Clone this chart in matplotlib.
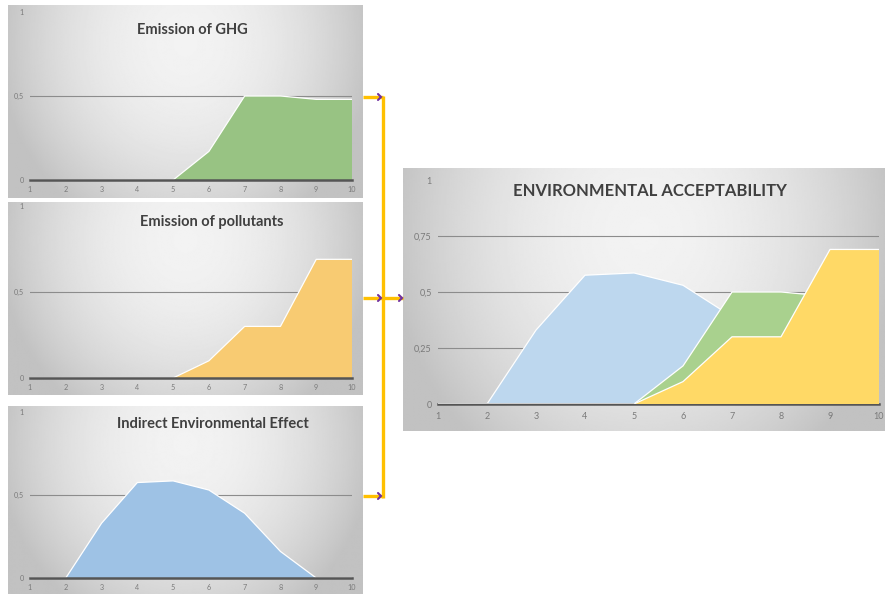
import numpy as np
import matplotlib
matplotlib.use("Agg")
import matplotlib.pyplot as plt

# ---- data -------------------------------------------------------------
levels = [1, 2, 3, 4, 5, 6, 7, 8, 9, 10]
ghg = [0, 0, 0, 0, 0, 0.17, 0.50, 0.50, 0.48, 0.48]
pollutants = [0, 0, 0, 0, 0, 0.10, 0.30, 0.30, 0.69, 0.69]
indirect = [0, 0, 0.33, 0.575, 0.585, 0.53, 0.39, 0.16, 0, 0]

small_titles = ["Emission of GHG", "Emission of pollutants", "Indirect Environmental Effect"]
main_title = "ENVIRONMENTAL ACCEPTABILITY"
small_yticks = [0, 0.5, 1]
small_yticklabels = ["0", "0,5", "1"]
main_yticks = [0, 0.25, 0.5, 0.75, 1]
main_yticklabels = ["0", "0,25", "0,5", "0,75", "1"]

small_colors = ["#98C383", "#F8CB72", "#9EC2E5"]
main_colors = {"indirect": "#BDD7EE", "ghg": "#A9D18E", "pollutants": "#FFD966"}

W, H = 885, 594
fig = plt.figure(figsize=(W / 100, H / 100), dpi=100)
fig.patch.set_facecolor("white")
plt.rcParams["font.family"] = ["Lato", "DejaVu Sans"]


def rect(x0, y0, x1, y1):
    """Pixel box (top-left origin) -> figure fraction rectangle."""
    return [x0 / W, 1 - y1 / H, (x1 - x0) / W, (y1 - y0) / H]


def gradient_panel(box, cy=0.8):
    bg = fig.add_axes(rect(*box), zorder=0)
    ny, nx = 200, 300
    yy, xx = np.mgrid[0:1:ny * 1j, 0:1:nx * 1j]
    r2 = ((xx - 0.5) / 0.5) ** 2 + ((yy - cy) / 1.0) ** 2
    v = np.clip(0.95 - 0.17 * r2, 0.76, 1.0)
    bg.imshow(v, cmap="gray", vmin=0, vmax=1, origin="lower",
              extent=(0, 1, 0, 1), aspect="auto", interpolation="bilinear")
    bg.set_axis_off()
    return bg


def style_axes(ax, yticks, ylabels, grid_vals, fs, xpad, ypad):
    ax.set_facecolor("none")
    ax.set_xlim(1, 10)
    ax.set_ylim(0, 1)
    ax.set_xticks(levels)
    ax.set_xticklabels([str(v) for v in levels])
    ax.set_yticks(yticks)
    ax.set_yticklabels(ylabels)
    for s in ax.spines.values():
        s.set_visible(False)
    ax.tick_params(length=0, labelsize=fs, colors="#7a7a7a")
    ax.tick_params(axis="x", pad=xpad)
    ax.tick_params(axis="y", pad=ypad)
    for g in grid_vals:
        ax.axhline(g, color="#8c8c8c", lw=0.8, zorder=1)
    ax.axhline(0, color="#555555", lw=1.8, zorder=5, clip_on=False)


def area(ax, values, color, z):
    ax.fill_between(levels, values, 0, facecolor=color, edgecolor="none", zorder=z)
    ax.plot(levels, values, color="white", lw=0.9, zorder=z + 0.1)


# ---- three input panels ----------------------------------------------
panels = [
    ((8, 5, 363, 198), (30, 12, 352, 180), ghg, (192, 30)),
    ((8, 202, 363, 395), (30, 206, 352, 378), pollutants, (212, 222)),
    ((8, 406, 363, 594), (30, 412, 352, 578), indirect, (213, 424)),
]
for i, (box, abox, vals, tpos) in enumerate(panels):
    gradient_panel(box)
    ax = fig.add_axes(rect(*abox), zorder=2)
    style_axes(ax, small_yticks, small_yticklabels, [0.5], 5.2, 4.5, 4.5)
    area(ax, vals, small_colors[i], 3)
    fig.text(tpos[0] / W, 1 - tpos[1] / H, small_titles[i], ha="center", va="center",
             fontsize=10.5, fontweight="bold", color="#404040", zorder=6)

# ---- aggregated panel ------------------------------------------------
gradient_panel((403, 168, 885, 431), cy=0.75)
axm = fig.add_axes(rect(438, 180, 879, 404), zorder=2)
style_axes(axm, main_yticks, main_yticklabels, [0.25, 0.5, 0.75], 6.5, 5.5, 4.5)
area(axm, indirect, main_colors["indirect"], 3)
area(axm, ghg, main_colors["ghg"], 4)
area(axm, pollutants, main_colors["pollutants"], 5)
fig.text(650 / W, 1 - 191 / H, main_title, ha="center", va="center",
         fontsize=12, fontweight="bold", color="#404040", zorder=6)

# ---- connectors ------------------------------------------------------
ov = fig.add_axes([0, 0, 1, 1], zorder=10)
ov.set_xlim(0, W)
ov.set_ylim(H, 0)
ov.set_axis_off()
ov.patch.set_alpha(0)
orange = "#FFC000"
purple = "#7030A0"
for y in (97, 298, 496):
    ov.plot([363, 383], [y, y], color=orange, lw=2.4, solid_capstyle="butt")
ov.plot([383, 383], [96, 498], color=orange, lw=2.4, solid_capstyle="butt")
ov.plot([383, 403], [298, 298], color=orange, lw=2.4, solid_capstyle="butt")
for x, y in ((381, 97), (381, 298), (381, 496), (402, 298)):
    ov.plot([x - 3, x, x - 3], [y - 3, y, y + 3], color=purple, lw=1.5,
            solid_capstyle="round", solid_joinstyle="miter", zorder=12)

fig.savefig("out.png", dpi=100)
